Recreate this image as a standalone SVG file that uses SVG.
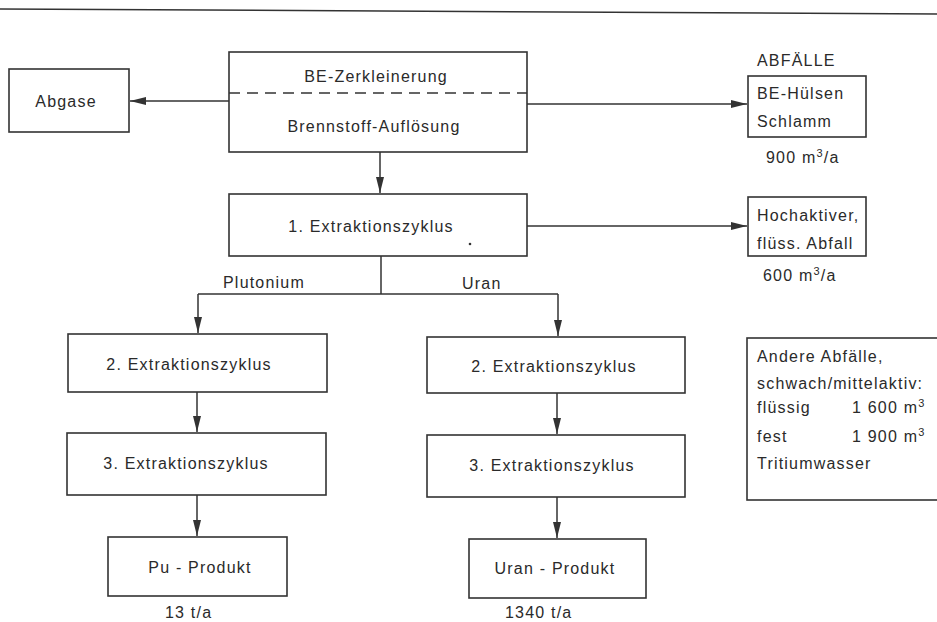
<svg xmlns="http://www.w3.org/2000/svg" width="937" height="622" viewBox="0 0 937 622">
<style>
.b{fill:none;stroke:#333;stroke-width:1.6}
.c{fill:none;stroke:#333;stroke-width:1.5}
text{font-family:"Liberation Sans","DejaVu Sans",sans-serif;font-size:16px;fill:#2a2a2a;letter-spacing:1.2px}
.m{text-anchor:middle}
</style>
<defs>
<marker id="ar" viewBox="0 0 16 8" refX="16" refY="4" markerWidth="16" markerHeight="8" markerUnits="userSpaceOnUse" orient="auto">
<path d="M0,0 L16,4 L0,8 Z" fill="#333"/>
</marker>
</defs>
<rect width="937" height="622" fill="#fff"/>
<line x1="0" y1="9" x2="937" y2="14" stroke="#333" stroke-width="1.5"/>
<g id="connectors">
<line class="c" x1="229" y1="101" x2="130" y2="101" marker-end="url(#ar)"/>
<line class="c" x1="527" y1="104" x2="747" y2="104" marker-end="url(#ar)"/>
<line class="c" x1="380" y1="152" x2="380" y2="193" marker-end="url(#ar)"/>
<line class="c" x1="527" y1="226" x2="747" y2="226" marker-end="url(#ar)"/>
<polyline class="c" points="381,256 381,294"/>
<polyline class="c" points="198,294 558,294"/>
<line class="c" x1="198" y1="294" x2="198" y2="333" marker-end="url(#ar)"/>
<line class="c" x1="558" y1="294" x2="558" y2="336" marker-end="url(#ar)"/>
<line class="c" x1="197" y1="392" x2="197" y2="432" marker-end="url(#ar)"/>
<line class="c" x1="197" y1="495" x2="197" y2="536" marker-end="url(#ar)"/>
<line class="c" x1="557" y1="393" x2="557" y2="434" marker-end="url(#ar)"/>
<line class="c" x1="557" y1="497" x2="557" y2="538" marker-end="url(#ar)"/>
</g>
<g id="main">
<rect class="b" x="229" y="52" width="298" height="100"/>
<line x1="229" y1="93" x2="527" y2="93" stroke="#333" stroke-width="1.5" stroke-dasharray="11,7"/>
<text class="m" x="376" y="82">BE-Zerkleinerung</text>
<text class="m" x="374" y="132">Brennstoff-Auflösung</text>
</g>
<g id="abgase">
<rect class="b" x="9" y="69" width="120" height="63"/>
<text class="m" x="66" y="107">Abgase</text>
</g>
<g id="huelsen">
<text x="757" y="66">ABFÄLLE</text>
<rect class="b" x="748" y="76" width="118" height="61"/>
<text x="757" y="99">BE-Hülsen</text>
<text x="757" y="127">Schlamm</text>
<text x="766" y="163">900 m<tspan dy="-6" font-size="11">3</tspan><tspan dy="6">/a</tspan></text>
</g>
<g id="ext1">
<rect class="b" x="229" y="194" width="298" height="62"/>
<text class="m" x="371" y="232">1.  Extraktionszyklus</text>
<circle cx="470" cy="244" r="1.3" fill="#333"/>
</g>
<g id="hochaktiv">
<rect class="b" x="748" y="197" width="118" height="59"/>
<text x="757" y="221">Hochaktiver,</text>
<text x="757" y="249" letter-spacing="0.8">flüss. Abfall</text>
<text x="763" y="281">600 m<tspan dy="-6" font-size="11">3</tspan><tspan dy="6">/a</tspan></text>
</g>
<g id="labels">
<text x="223" y="288">Plutonium</text>
<text x="462" y="289">Uran</text>
</g>
<g id="pu2">
<rect class="b" x="68" y="334" width="259" height="58"/>
<text class="m" x="189" y="370">2.  Extraktionszyklus</text>
</g>
<g id="pu3">
<rect class="b" x="67" y="433" width="259" height="62"/>
<text class="m" x="186" y="469">3.  Extraktionszyklus</text>
</g>
<g id="pu">
<rect class="b" x="108" y="537" width="179" height="59"/>
<text class="m" x="200" y="573">Pu -  Produkt</text>
<text x="165" y="618">13 t/a</text>
</g>
<g id="u2">
<rect class="b" x="427" y="337" width="258" height="56"/>
<text class="m" x="554" y="372">2.  Extraktionszyklus</text>
</g>
<g id="u3">
<rect class="b" x="427" y="435" width="258" height="62"/>
<text class="m" x="552" y="471">3. Extraktionszyklus</text>
</g>
<g id="uran">
<rect class="b" x="469" y="539" width="177" height="59"/>
<text class="m" x="555" y="574">Uran - Produkt</text>
<text x="505" y="618">1340 t/a</text>
</g>
<g id="andere">
<rect class="b" x="747" y="338" width="210" height="162"/>
<text x="757" y="362">Andere Abfälle,</text>
<text x="757" y="389" letter-spacing="0.6">schwach/mittelaktiv:</text>
<text x="757" y="413">flüssig</text>
<text x="852" y="413" letter-spacing="1">1 600 m<tspan dy="-6" font-size="11">3</tspan></text>
<text x="757" y="442">fest</text>
<text x="852" y="442" letter-spacing="1">1 900 m<tspan dy="-6" font-size="11">3</tspan></text>
<text x="757" y="469">Tritiumwasser</text>
</g>
</svg>
